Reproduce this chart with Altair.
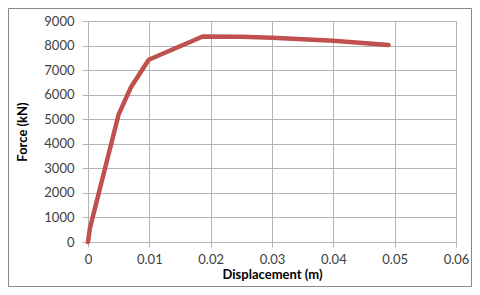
import altair as alt
import pandas as pd

# Data
displacement = [0.0, 0.0003, 0.005, 0.007, 0.0099, 0.0187, 0.025, 0.030, 0.040, 0.049]
force = [0, 550, 5200, 6300, 7420, 8370, 8360, 8320, 8200, 8020]
x_ticks = [0, 0.01, 0.02, 0.03, 0.04, 0.05, 0.06]
y_ticks = [0, 1000, 2000, 3000, 4000, 5000, 6000, 7000, 8000, 9000]

df = pd.DataFrame({"d": displacement, "f": force, "o": list(range(len(force)))})

W, H = 368, 221
PAD = {"left": 80, "top": 13, "right": 16, "bottom": 45}
FONT = "Lato"

line = alt.Chart(df).mark_line(
    color="#C0504D", strokeWidth=4.5, strokeCap="round", strokeJoin="round"
).encode(
    x=alt.X("d:Q", title="Displacement (m)",
            scale=alt.Scale(domain=[0, 0.06], nice=False, zero=True),
            axis=alt.Axis(values=x_ticks, format="~g", labelFlush=False)),
    y=alt.Y("f:Q", title="Force (kN)",
            scale=alt.Scale(domain=[0, 9000], nice=False),
            axis=alt.Axis(values=y_ticks, format="d")),
    order="o:Q",
)

border = alt.Chart(alt.Data(values=[{"a": 1}])).mark_rect(
    fill=None, stroke="#888888", strokeWidth=1
).encode(
    x=alt.value(-PAD["left"] + 0.5),
    x2=alt.value(W + PAD["right"] - 0.5),
    y=alt.value(-PAD["top"] + 0.5),
    y2=alt.value(H + PAD["bottom"] - 0.5),
)

chart = alt.layer(line, border).properties(
    width=W, height=H,
    autosize=alt.AutoSizeParams(type="none"),
    padding=PAD,
    background="white",
).configure_view(
    stroke=None
).configure_axis(
    labelFont=FONT, labelFontSize=13, labelColor="#404040",
    titleFont=FONT, titleFontSize=13, titleFontWeight="bold", titleColor="#000000",
    gridColor="#B4B4B4", gridWidth=1,
    domainColor="#B4B4B4", domainWidth=1,
    tickColor="#B4B4B4", tickSize=6,
    labelPadding=8,
).configure_axisY(
    titlePadding=14,
).configure_axisX(
    labelPadding=6, tickSize=5,
    titlePadding=2,
)

chart.save("out.html", embed_options={"renderer": "svg", "actions": False})
